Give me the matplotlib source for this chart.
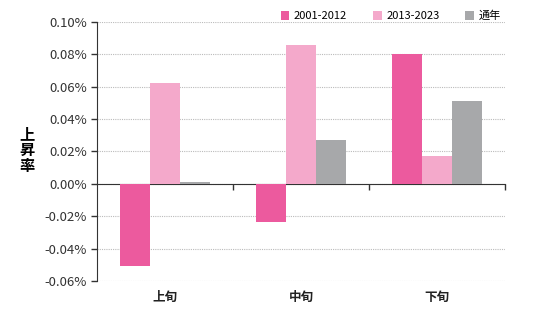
import matplotlib.pyplot as plt
import matplotlib.ticker as mticker
import numpy as np

plt.rcParams['font.family'] = ['Noto Sans CJK JP', 'DejaVu Sans']

# data (percent)
categories = ['上旬', '中旬', '下旬']
series_names = ['2001-2012', '2013-2023', '通年']
v_2001_2012 = [-0.051, -0.0235, 0.080]
v_2013_2023 = [0.062, 0.0855, 0.017]
v_all_year = [0.001, 0.027, 0.051]
colors = ['#EC5A9E', '#F4A9CB', '#A7A8AA']

fig = plt.figure(figsize=(5.4, 3.32), dpi=100)
ax = fig.add_axes([0.18, 0.154, 0.755, 0.78])

x = np.arange(len(categories))
w = 0.22
for i, (vals, name) in enumerate(zip([v_2001_2012, v_2013_2023, v_all_year], series_names)):
    ax.bar(x + (i - 1) * w, vals, w, color=colors[i], label=name, zorder=3)

ax.set_ylim(-0.06, 0.10)
ax.set_xlim(-0.5, 2.5)
ax.set_yticks(np.arange(-0.06, 0.1001, 0.02))
ax.yaxis.set_major_formatter(mticker.FuncFormatter(lambda v, p: f'{v:.2f}%'))
ax.tick_params(axis='y', labelsize=9.5, colors='#333333', length=4, width=1)
ax.yaxis.grid(True, linestyle=(0, (1, 1)), color='#BBBBBB', linewidth=0.8)

# x axis line at zero, ticks at category boundaries
ax.spines['bottom'].set_position(('data', 0))
ax.spines['bottom'].set_color('#333333')
ax.spines['left'].set_color('#333333')
ax.spines['top'].set_visible(False)
ax.spines['right'].set_visible(False)
ax.set_xticks([0.5, 1.5, 2.5])
ax.set_xticklabels([])
ax.tick_params(axis='x', length=4, width=1, colors='#333333')
for i, c in enumerate(categories):
    ax.text(i, -0.066, c, ha='center', va='top', fontsize=9, color='#222222',
            fontweight='bold')

ax.text(-0.172, 0.506, '上\n昇\n率', transform=ax.transAxes, ha='center', va='center',
        fontsize=11, fontweight='bold', linespacing=1.0)

ax.legend(loc='lower right', bbox_to_anchor=(1.0, 0.985), ncol=3, frameon=False,
          fontsize=8, handlelength=0.8, handleheight=0.8, columnspacing=2.3,
          handletextpad=0.4, borderaxespad=0)

fig.savefig('out.png', dpi=100)
